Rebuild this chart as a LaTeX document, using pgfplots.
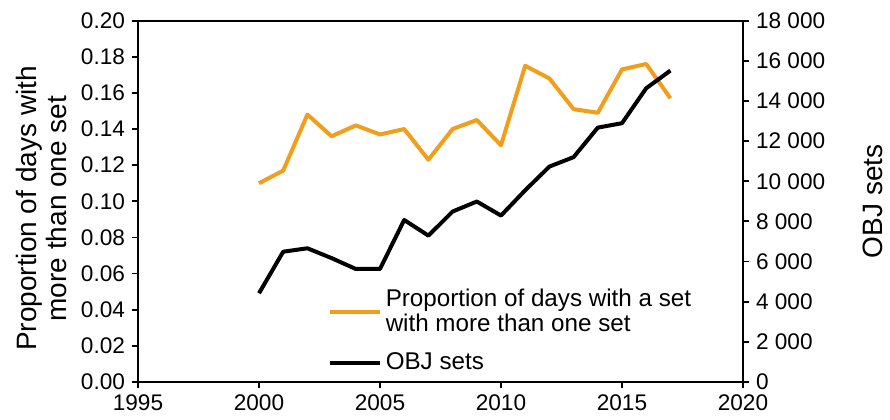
\documentclass[border=0pt]{standalone}
\usepackage{fontspec}
\setmainfont{Liberation Sans}
\usepackage{pgfplots}
\pgfplotsset{compat=1.18}
\definecolor{propor}{RGB}{240,158,28}

\begin{document}
\begin{tikzpicture}
\pgfplotsset{
  every axis/.append style={
    scale only axis, width=302.5pt, height=180.7pt,
    xmin=1995, xmax=2020, xtick={1995,2000,...,2020},
    /pgf/number format/assume math mode=true,
    tick style={black, line width=0.9pt},
    axis line style={line width=1pt},
    tick align=outside, major tick length=3pt,
    tick label style={font=\fontsize{11.3}{12}\selectfont},
    label style={font=\fontsize{14}{15}\selectfont},
  }
}
\path[use as bounding box] (-69pt,-18.5pt) rectangle (376pt,191pt);

% proportion (left axis)
\begin{axis}[
  ymin=0, ymax=0.2, ytick={0,0.02,...,0.2},
  xtick pos=bottom, ytick pos=left,
  yticklabel style={/pgf/number format/.cd, fixed, fixed zerofill, precision=2},
  xticklabel style={/pgf/number format/1000 sep={}},
  ylabel={Proportion of days with\\more than one set},
  ylabel style={align=center, at={(axis description cs:-0.16,0.48)}, anchor=center},
]
\addplot[propor, line width=2pt, line join=round] coordinates {
  (2000,0.110) (2001,0.117) (2002,0.148) (2003,0.136) (2004,0.142) (2005,0.137)
  (2006,0.140) (2007,0.123) (2008,0.140) (2009,0.145) (2010,0.131) (2011,0.175)
  (2012,0.168) (2013,0.151) (2014,0.149) (2015,0.173) (2016,0.176) (2017,0.157)
};
\end{axis}

% OBJ sets (right axis)
\begin{axis}[
  axis x line=none, axis y line*=right,
  ymin=0, ymax=18000, ytick={0,2000,...,18000},
  scaled y ticks=false,
  yticklabel style={/pgf/number format/1000 sep={\ }},
  ylabel={OBJ sets},
  ylabel style={at={(axis description cs:1.215,0.5)}, anchor=center},
  legend style={at={(0.313,0.27)}, anchor=north west, draw=none, fill=none,
    inner sep=0pt, row sep=5pt, cells={align=left},
    font=\fontsize{12.1}{12.6}\selectfont},
  legend cell align=left,
  legend image code/.code={\draw[#1] (0pt,0pt) -- (25pt,0pt);},
]
\addlegendimage{propor, line width=2pt}
\addlegendentry{Proportion of days with a set\\with more than one set}
\addplot[black, line width=2pt, line join=round] coordinates {
  (2000,4420) (2001,6490) (2002,6660) (2003,6170) (2004,5630) (2005,5630)
  (2006,8070) (2007,7290) (2008,8490) (2009,8990) (2010,8290) (2011,9550)
  (2012,10730) (2013,11200) (2014,12670) (2015,12890) (2016,14630) (2017,15510)
};
\addlegendentry{OBJ sets}
\end{axis}
\end{tikzpicture}
\end{document}
